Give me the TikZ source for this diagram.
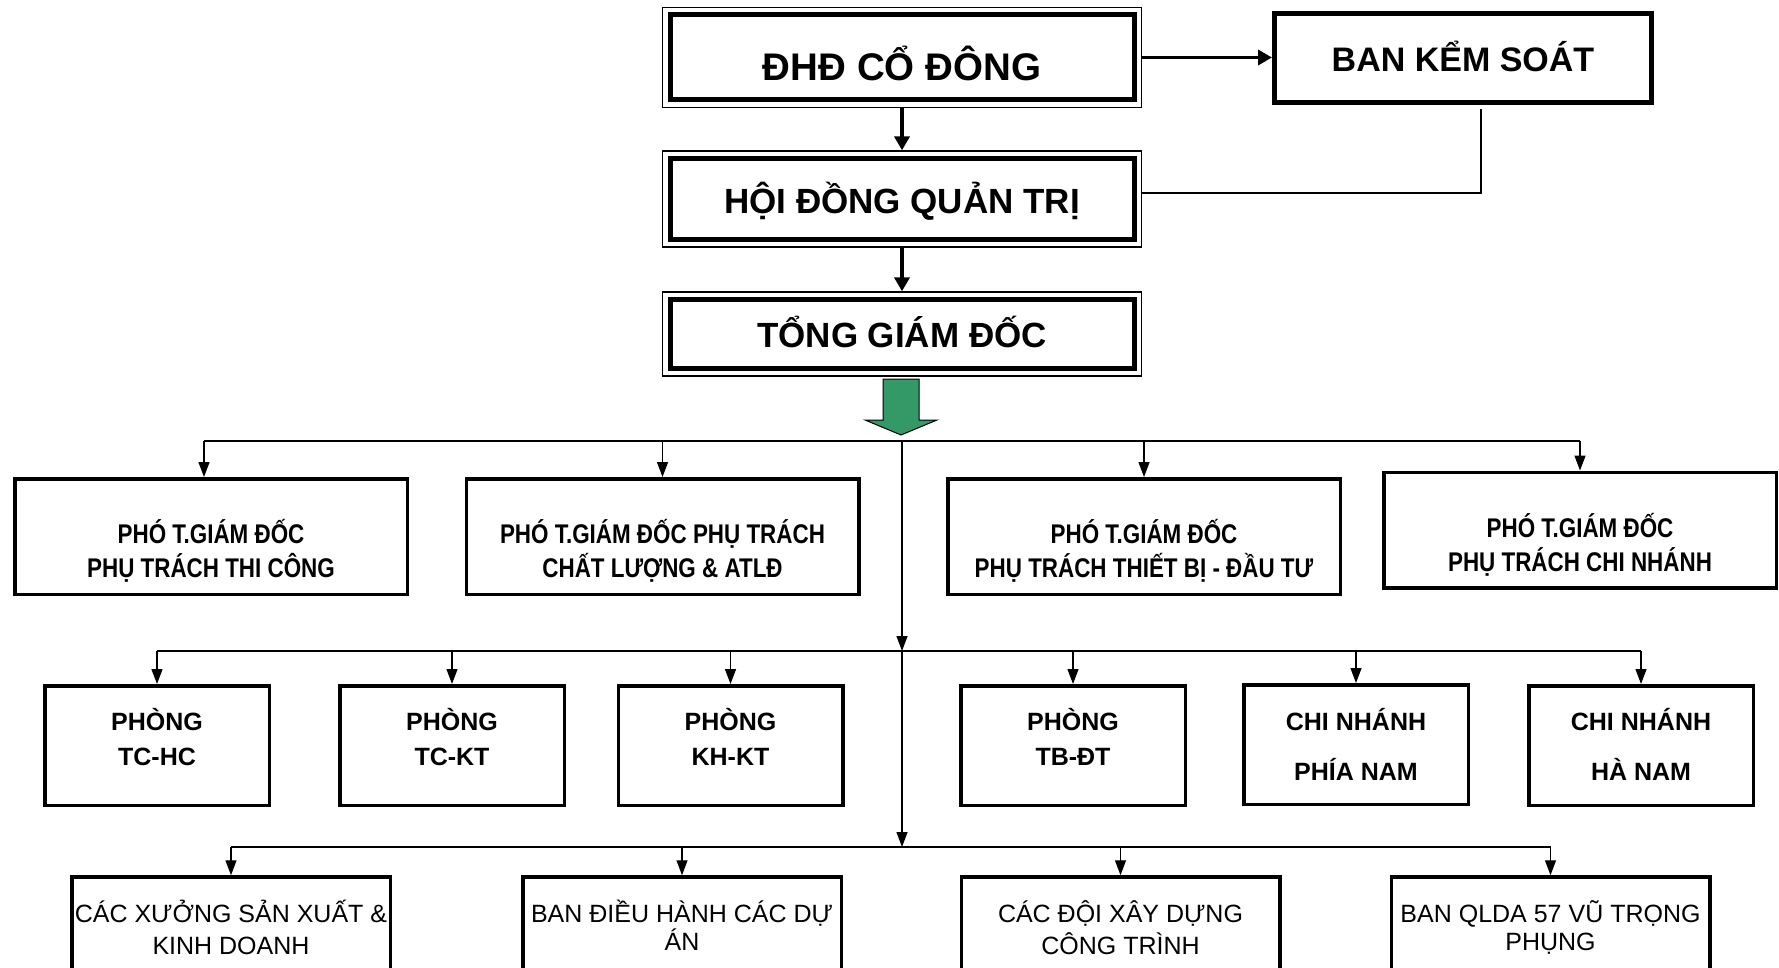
\documentclass[tikz,border=0pt]{standalone}
\usepackage{fontspec}
\setmainfont{Liberation Sans}
\newfontfamily\narrowfont[FakeStretch=0.83]{Liberation Sans}
\usetikzlibrary{arrows.meta,fit}
\definecolor{tgreen}{RGB}{51,153,102}
\tikzset{
  topbox/.style={draw, line width=5pt, inner sep=0pt, minimum width=464pt},
  outerframe/.style={draw, line width=1.3pt, inner sep=5pt, fit=#1},
  bksbox/.style={draw, line width=5pt, inner sep=0pt, minimum width=377pt, minimum height=89pt},
  vpbox/.style={draw, line width=3.5pt, inner sep=0pt, minimum width=392.5pt, minimum height=115.5pt},
  deptbox/.style={draw, line width=3.5pt, inner sep=0pt, minimum width=224.5pt, minimum height=119.5pt},
  unitbox/.style={draw, line width=3.5pt, inner sep=0pt, minimum width=318.5pt, minimum height=123pt},
  toptxt/.style={inner sep=0pt, align=center, font=\bfseries\fontsize{#1}{#1}\selectfont, text depth=0pt},
  vptxt/.style={inner sep=0pt, align=center, font=\narrowfont\bfseries\fontsize{27}{34}\selectfont, text height=53.3pt, text depth=0pt},
  depttxt/.style={inner sep=0pt, align=center, font=\bfseries\fontsize{25}{#1}\selectfont, text height=17.9pt+#1pt, text depth=0pt},
  unittxt/.style={inner sep=0pt, align=center, font=\fontsize{25}{#1}\selectfont, text height=17.9pt+#1pt, text depth=0pt},
  bigarr/.style={line width=3.5pt, -{Triangle[length=14pt,width=15pt]}},
  bus/.style={line width=1.3pt},
  arr/.style={line width=1.3pt, -{Triangle[length=15pt,width=11pt]}},
}
\begin{document}
\begin{tikzpicture}[x=1pt,y=-1pt]
\useasboundingbox (0,0) rectangle (1779,968);
\clip (0,0) rectangle (1779,968);

% top level
\node[topbox, minimum height=85pt] (dhd) at (902,57.5) {};
\node[outerframe=(dhd)] (dhdF) {};
\node[toptxt=38.5, text height=27.6pt] (dhdT) at (902,66.5) {ĐHĐ CỔ ĐÔNG};

\node[bksbox] (bks) at (1463,58) {};
\node[toptxt=34, text height=24.3pt] (bksT) at (1463,59.5) {BAN KỂM SOÁT};

\node[topbox, minimum height=81pt] (hdqt) at (902,199) {};
\node[outerframe=(hdqt)] (hdqtF) {};
\node[toptxt=35, text height=25pt] (hdqtT) at (902,201) {HỘI ĐỒNG QUẢN TRỊ};

\node[topbox, minimum height=69pt] (tgd) at (902,334) {};
\node[outerframe=(tgd)] (tgdF) {};
\node[toptxt=35, text height=25pt] (tgdT) at (902,334.5) {TỔNG GIÁM ĐỐC};

\draw[bigarr] (dhdF.south) -- (hdqtF.north);
\draw[bigarr] (hdqtF.south) -- (tgdF.north);
\draw[bigarr] (dhdF.east) -- (dhdF.east -| bks.west);
\coordinate (bkj) at (1481,193);
\coordinate (bks0) at ([yshift=-4pt]bks.south);
\draw[bus] (bks0 -| bkj) -- (bkj) -- (bkj -| hdqtF.east);

% green arrow
\draw[fill=tgreen, line width=1pt, line join=miter]
  (883,379) -- (919,379) -- (919,420) -- (937,420) -- (901,435) -- (865,420) -- (883,420) -- cycle;

% vice directors
\node[vpbox] (p1) at (211,536.5) {};
\node[vpbox] (p2) at (662.5,536.5) {};
\node[vpbox] (p3) at (1144,536.5) {};
\node[vpbox] (p4) at (1580,530) {};
\node[vptxt] (p1T) at (211,551) {PHÓ T.GIÁM ĐỐC\\PHỤ TRÁCH THI CÔNG};
\node[vptxt] (p2T) at (662.5,551) {PHÓ T.GIÁM ĐỐC PHỤ TRÁCH\\CHẤT LƯỢNG \& ATLĐ};
\node[vptxt] (p3T) at (1144,551) {PHÓ T.GIÁM ĐỐC\\PHỤ TRÁCH THIẾT BỊ - ĐẦU TƯ};
\node[vptxt] (p4T) at (1580,545) {PHÓ T.GIÁM ĐỐC\\PHỤ TRÁCH CHI NHÁNH};

% departments
\node[deptbox] (q1) at (157,745.5) {};
\node[deptbox] (q2) at (452,745.5) {};
\node[deptbox] (q3) at (730.5,745.5) {};
\node[deptbox] (q4) at (1073,745.5) {};
\node[deptbox] (q5) at (1356,744.5) {};
\node[deptbox] (q6) at (1641,745.5) {};
\node[depttxt=35] (q1T) at (157,739.2) {PHÒNG\\TC-HC};
\node[depttxt=35] (q2T) at (452,739.2) {PHÒNG\\TC-KT};
\node[depttxt=35] (q3T) at (730.5,739.2) {PHÒNG\\KH-KT};
\node[depttxt=35] (q4T) at (1073,739.2) {PHÒNG\\TB-ĐT};
\node[depttxt=50] (q5T) at (1356,746.5) {CHI NHÁNH\\PHÍA NAM};
\node[depttxt=50] (q6T) at (1641,746.5) {CHI NHÁNH\\HÀ NAM};

% units
\node[unitbox] (r1) at (231,938.5) {};
\node[unitbox] (r2) at (682,938.5) {};
\node[unitbox] (r3) at (1120.5,938.5) {};
\node[unitbox] (r4) at (1550.5,938.5) {};
\node[unittxt=32] (r1T) at (231,930) {CÁC XƯỞNG SẢN XUẤT \&\\KINH DOANH};
\node[unittxt=28] (r2T) at (682,928) {BAN ĐIỀU HÀNH CÁC DỰ\\ÁN};
\node[unittxt=32] (r3T) at (1120.5,930) {CÁC ĐỘI XÂY DỰNG\\CÔNG TRÌNH};
\node[unittxt=28] (r4T) at (1550.5,928) {BAN QLDA 57 VŨ TRỌNG\\PHỤNG};

% buses
\coordinate (b1) at (902,441);
\coordinate (b2) at (902,651);
\coordinate (b3) at (902,847);
\coordinate (p1a) at ([xshift=-7pt]p1.north);
\draw[bus] (p1a |- b1) -- (p4.north |- b1);
\draw[arr] (p1a |- b1) -- (p1a);
\foreach \n in {p2,p3,p4} \draw[arr] (\n.north |- b1) -- (\n.north);
\draw[arr] (b1) -- (b2);
\draw[bus] (q1.north |- b2) -- (q6.north |- b2);
\foreach \n in {q1,q2,q3,q4,q5,q6} \draw[arr] (\n.north |- b2) -- (\n.north);
\draw[arr] (b2) -- (b3);
\draw[bus] (r1.north |- b3) -- (r4.north |- b3);
\foreach \n in {r1,r2,r3,r4} \draw[arr] (\n.north |- b3) -- (\n.north);
\end{tikzpicture}
\end{document}
